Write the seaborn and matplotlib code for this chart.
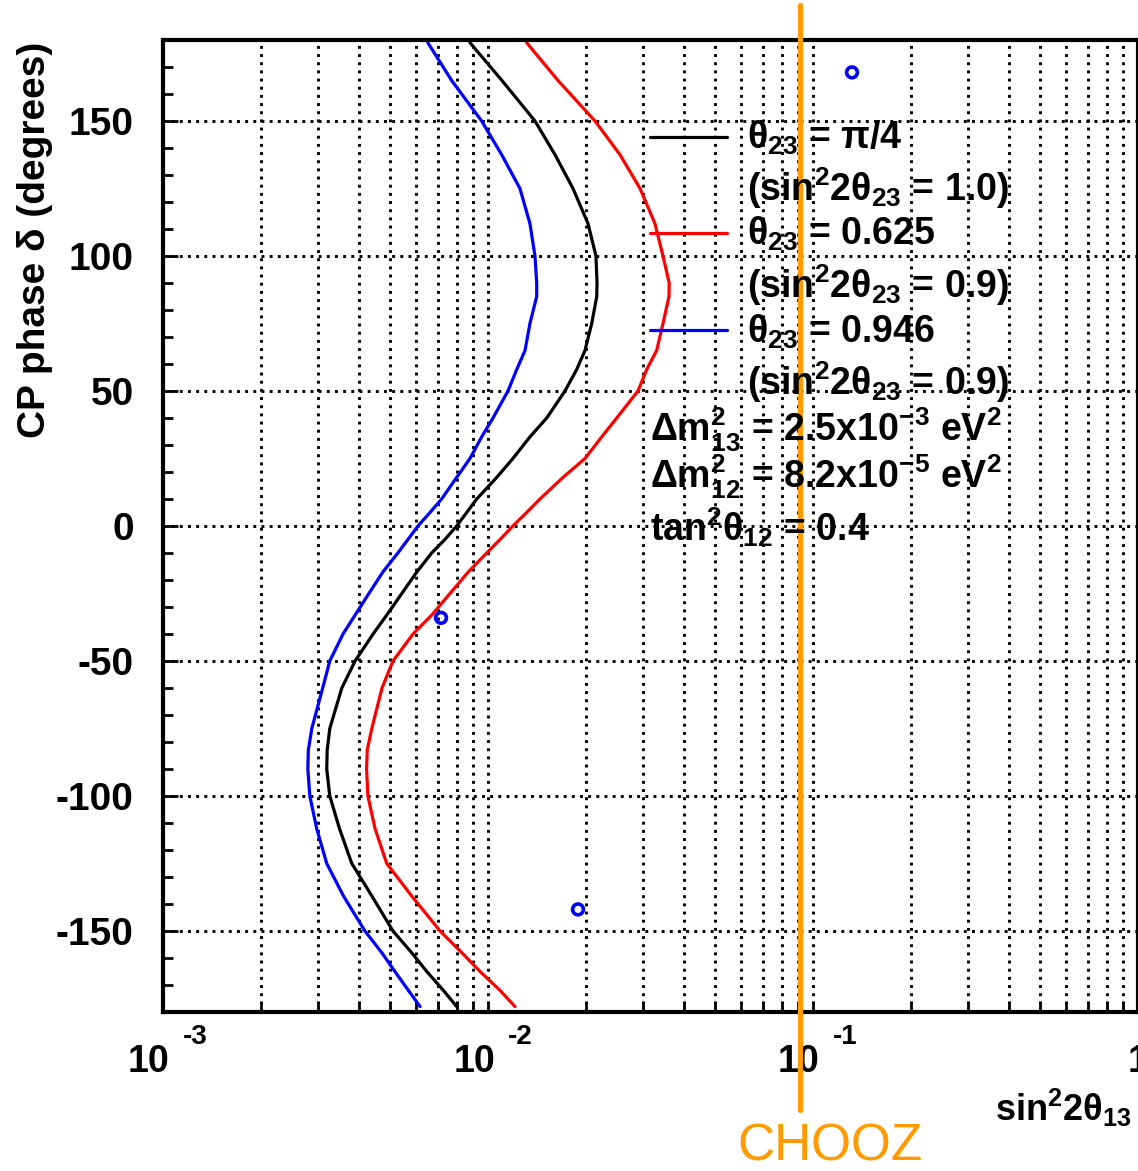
import numpy as np
import pandas as pd
import matplotlib
matplotlib.use('Agg')
import matplotlib.pyplot as plt
from matplotlib.ticker import FixedLocator, LogLocator, MultipleLocator, NullFormatter
from matplotlib.transforms import blended_transform_factory, offset_copy
from matplotlib.lines import Line2D
import seaborn as sns

# CP phase (degrees) where the curves were read
delta = [179, 165, 150, 137.5, 125, 112, 100, 90, 85, 75,
         65, 58, 50, 40, 33, 25, 18, 10, 5, 0,
         -5, -10, -17, -25, -33, -40, -50, -60, -75, -83,
         -90, -100, -112, -125, -137, -150, -158, -165, -172, -178]

# sin^2 2theta13 for each theta23 hypothesis
s2_pi4 = [0.00880, 0.01104, 0.01395, 0.01608, 0.01826, 0.02031, 0.02149, 0.02165, 0.02161, 0.02085,
          0.01988, 0.01875, 0.01725, 0.01516, 0.01346, 0.01193, 0.01064, 0.00923, 0.00860, 0.00801,
          0.00737, 0.00671, 0.00604, 0.00543, 0.00488, 0.00443, 0.00390, 0.00355, 0.00326, 0.00320,
          0.00319, 0.00326, 0.00349, 0.00381, 0.00439, 0.00510, 0.00582, 0.00648, 0.00729, 0.00801]
s2_0625 = [0.01315, 0.01642, 0.02134, 0.02548, 0.02936, 0.03264, 0.03455, 0.03610, 0.03605, 0.03455,
           0.03304, 0.03079, 0.02894, 0.02489, 0.02238, 0.01988, 0.01701, 0.01445, 0.01315, 0.01193,
           0.01089, 0.00991, 0.00870, 0.00764, 0.00671, 0.00588, 0.00510, 0.00472, 0.00439, 0.00425,
           0.00423, 0.00427, 0.00449, 0.00488, 0.00582, 0.00712, 0.00830, 0.00945, 0.01089, 0.01211]
s2_0946 = [0.00653, 0.00773, 0.00956, 0.01102, 0.01254, 0.01346, 0.01395, 0.01412, 0.01412, 0.01346,
           0.01300, 0.01226, 0.01152, 0.01036, 0.00956, 0.00880, 0.00801, 0.00720, 0.00663, 0.00609,
           0.00567, 0.00528, 0.00475, 0.00430, 0.00390, 0.00358, 0.00326, 0.00310, 0.00287, 0.00280,
           0.00279, 0.00283, 0.00297, 0.00319, 0.00359, 0.00418, 0.00471, 0.00517, 0.00569, 0.00618]

# isolated open-circle points
pt_s2 = [0.00717, 0.01892, 0.1318]
pt_delta = [-34, -142, 168]

chooz_limit = 0.0912

x_major = [1e-3, 1e-2, 1e-1, 1.0]
x_base = ['10', '10', '10', '1']
x_exp = ['-3', '-2', '-1', '']

sns.set_style('ticks')
plt.rcParams['font.family'] = ['Liberation Sans', 'DejaVu Sans']
plt.rcParams['font.weight'] = 'bold'
plt.rcParams['text.color'] = 'black'
plt.rcParams['axes.labelcolor'] = 'black'
plt.rcParams['xtick.color'] = 'black'
plt.rcParams['ytick.color'] = 'black'
plt.rcParams['axes.unicode_minus'] = False
plt.rcParams['mathtext.fontset'] = 'custom'
plt.rcParams['mathtext.rm'] = 'Liberation Sans:bold'
plt.rcParams['mathtext.bf'] = 'Liberation Sans:bold'
plt.rcParams['mathtext.it'] = 'Liberation Sans:bold'

df = pd.concat([
    pd.DataFrame({'s2': s2_pi4, 'delta': delta, 'curve': 'pi4'}),
    pd.DataFrame({'s2': s2_0625, 'delta': delta, 'curve': '0625'}),
    pd.DataFrame({'s2': s2_0946, 'delta': delta, 'curve': '0946'}),
])
colors = {'pi4': 'black', '0625': '#ff0000', '0946': '#0000ff'}

fig = plt.figure(figsize=(11.38, 11.71), dpi=100)
ax = fig.add_axes([163 / 1138, 1 - 1012 / 1171, 975 / 1138, 972 / 1171])

sns.lineplot(data=df, x='s2', y='delta', hue='curve', palette=colors, sort=False,
             estimator=None, lw=2.3, legend=False, ax=ax)
sns.scatterplot(x=pt_s2, y=pt_delta, marker='o', s=60, facecolors='none',
                edgecolor='#0000ff', linewidth=2.6, ax=ax, zorder=5)

ax.set_xscale('log')
ax.set_xlim(1e-3, 1)
ax.set_ylim(-180, 180)

ax.xaxis.set_major_locator(FixedLocator(x_major))
ax.xaxis.set_major_formatter(NullFormatter())
ax.xaxis.set_minor_locator(LogLocator(base=10, subs=np.arange(2, 10)))
ax.xaxis.set_minor_formatter(NullFormatter())
ax.yaxis.set_major_locator(MultipleLocator(50))
ax.yaxis.set_minor_locator(MultipleLocator(10))

grid_kw = dict(color='black', ls=(0, (1, 1.8)), lw=2.1)
ax.grid(True, which='both', axis='x', **grid_kw)
ax.grid(True, which='major', axis='y', **grid_kw)

ax.tick_params(axis='both', which='both', direction='in', width=2, colors='black',
               top=False, right=False)
ax.tick_params(axis='x', which='both', length=7)
ax.tick_params(axis='y', which='major', length=11, labelsize=28, pad=21)
ax.tick_params(axis='y', which='minor', length=7)
for sp in ax.spines.values():
    sp.set_linewidth(3)
    sp.set_color('black')

# ROOT-style x tick labels: "10" with a raised exponent to its right
xt = blended_transform_factory(ax.transData, ax.transAxes)
for v, b, e in zip(x_major, x_base, x_exp):
    dx = -14 if e else 0
    ax.text(v, 0, b, transform=offset_copy(xt, fig=fig, x=dx, y=-50, units='dots'),
            ha='center', va='center', fontsize=27, fontweight='bold', clip_on=False)
    if e:
        ax.text(v, 0, e, transform=offset_copy(xt, fig=fig, x=20, y=-25, units='dots'),
                ha='left', va='center', fontsize=20, fontweight='bold', clip_on=False)

ax.set_xlabel('')
ax.set_ylabel('')
fig.text(35 / 1138, 1 - 240 / 1171, 'CP phase δ (degrees)', rotation=90,
         ha='center', va='center', fontsize=28, fontweight='bold')
fig.text(995 / 1138, 1 - 1108 / 1171, r'sin$^{\mathbf{2}}$2θ$_{\mathbf{13}}$',
         ha='left', va='center', fontsize=26, fontweight='bold')

# CHOOZ limit
ax.axvline(chooz_limit, ymin=-0.101, ymax=1.036, color='#ff9a00', lw=3.8,
           clip_on=False, zorder=6)
fig.text(830 / 1138, 1 - 1147 / 1171, 'CHOOZ', color='#ff9a00', ha='center',
         va='center', fontsize=37, fontweight='normal')

# legend block
fs = 27
keys = [('black', 0.900), ('#ff0000', 0.801), ('#0000ff', 0.702)]
for c, yk in keys:
    ax.add_line(Line2D([0.4995, 0.5785], [yk, yk], color=c, lw=2.3,
                       transform=ax.transAxes))
lines = [
    (0.5987, 0.899, r'θ$_{\mathbf{23}}$ = π/4'),
    (0.5987, 0.848, r'(sin$^{\mathbf{2}}$2θ$_{\mathbf{23}}$ = 1.0)'),
    (0.5987, 0.801, r'θ$_{\mathbf{23}}$ = 0.625'),
    (0.5987, 0.748, r'(sin$^{\mathbf{2}}$2θ$_{\mathbf{23}}$ = 0.9)'),
    (0.5987, 0.700, r'θ$_{\mathbf{23}}$ = 0.946'),
    (0.5987, 0.648, r'(sin$^{\mathbf{2}}$2θ$_{\mathbf{23}}$ = 0.9)'),
    (0.4995, 0.599, r'Δm$^{\mathbf{2}}_{\mathbf{13}}$ = 2.5x10$^{\mathbf{-3}}$ eV$^{\mathbf{2}}$'),
    (0.4995, 0.550, r'Δm$^{\mathbf{2}}_{\mathbf{12}}$ = 8.2x10$^{\mathbf{-5}}$ eV$^{\mathbf{2}}$'),
    (0.4995, 0.499, r'tan$^{\mathbf{2}}$θ$_{\mathbf{12}}$ = 0.4'),
]
for xq, yq, t in lines:
    ax.text(xq, yq, t, transform=ax.transAxes, ha='left', va='center',
            fontsize=fs, fontweight='bold', zorder=7)

fig.savefig('out.png', dpi=100)
